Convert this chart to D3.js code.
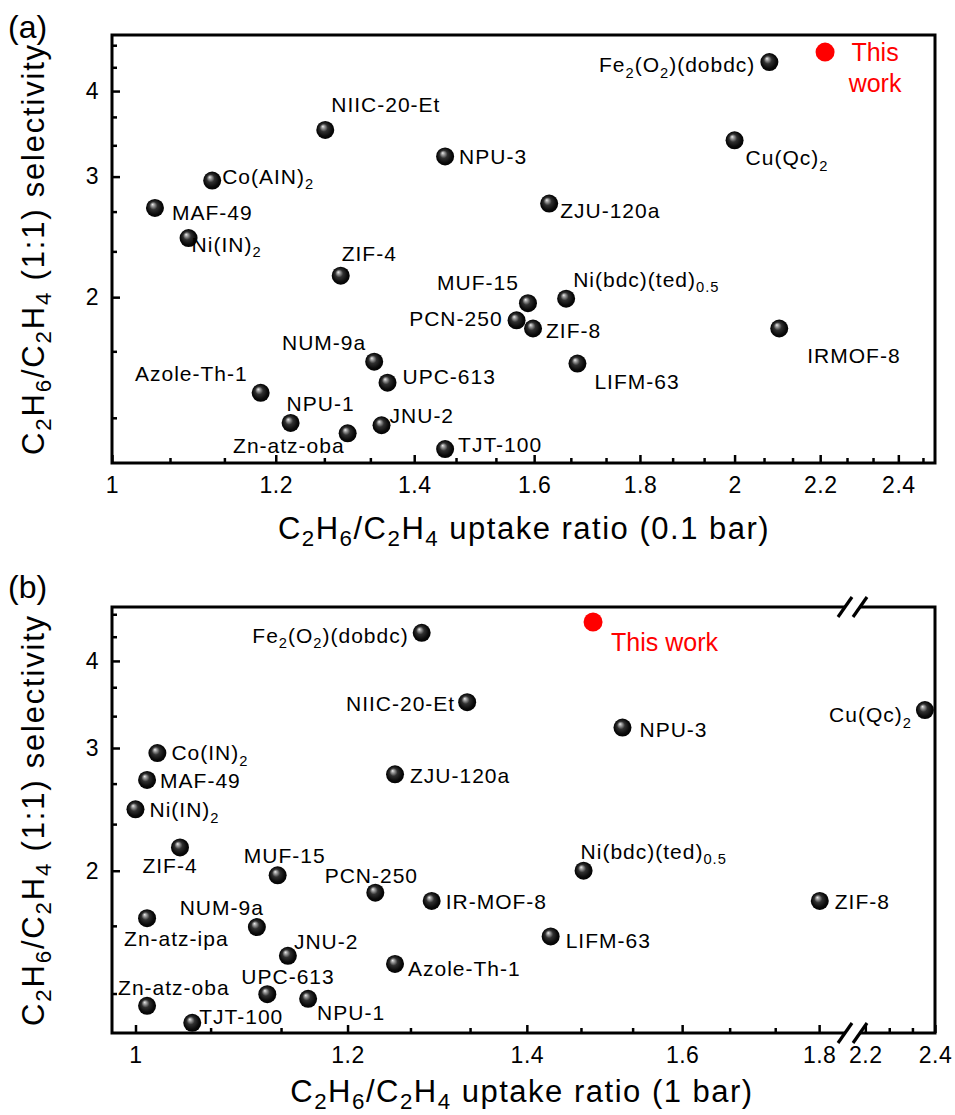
<!DOCTYPE html>
<html><head><meta charset="utf-8">
<script src="https://cdn.jsdelivr.net/npm/d3@7"></script>
<style>
body{margin:0;background:#fff}
svg{display:block}
text{font-family:"Liberation Sans",Arial,sans-serif;fill:#000}
</style>
</head><body>
<svg id="chart" width="955" height="1115"></svg>
<script>
// ---------- Panel (a): 0.1 bar ----------
const namesA = ["Fe_{2}(O_{2})(dobdc)","Cu(Qc)_{2}","NIIC-20-Et","NPU-3","Co(AIN)_{2}","MAF-49","Ni(IN)_{2}","ZJU-120a","ZIF-4","MUF-15","Ni(bdc)(ted)_{0.5}","PCN-250","ZIF-8","IRMOF-8","LIFM-63","NUM-9a","UPC-613","Azole-Th-1","NPU-1","JNU-2","Zn-atz-oba","TJT-100"];
const uptakeA = [2.079,2.0,1.268,1.449,1.118,1.049,1.089,1.627,1.290,1.589,1.658,1.569,1.598,2.102,1.679,1.339,1.359,1.180,1.220,1.350,1.300,1.449];
const selectivityA = [4.41,3.39,3.51,3.21,2.96,2.70,2.44,2.74,2.15,1.96,1.99,1.85,1.80,1.80,1.60,1.61,1.50,1.45,1.31,1.30,1.265,1.20];
const thisWorkA = [2.212, 4.56];

// ---------- Panel (b): 1 bar ----------
const namesB = ["Fe_{2}(O_{2})(dobdc)","NIIC-20-Et","NPU-3","Cu(Qc)_{2}","Co(IN)_{2}","MAF-49","Ni(IN)_{2}","ZJU-120a","ZIF-4","MUF-15","PCN-250","IR-MOF-8","Ni(bdc)(ted)_{0.5}","ZIF-8","LIFM-63","Azole-Th-1","Zn-atz-ipa","NUM-9a","JNU-2","UPC-613","NPU-1","Zn-atz-oba","TJT-100"];
const uptakeB = [1.279,1.330,1.520,2.37,1.019,1.010,1.000,1.250,1.039,1.130,1.229,1.290,1.470,1.801,1.429,1.250,1.010,1.110,1.140,1.120,1.160,1.010,1.050];
const selectivityB = [4.39,3.49,3.21,3.40,2.95,2.70,2.45,2.75,2.16,1.97,1.86,1.81,2.0,1.81,1.61,1.47,1.71,1.66,1.51,1.33,1.31,1.28,1.21];
const thisWorkB = [1.482, 4.55];

// ---------- ticks ----------
const yMajor = [2,3,4];
const yMinor = [1.333,1.667,2.333,2.667,3.333,3.667,4.333,4.667];
const xMajorA = [1,1.2,1.4,1.6,1.8,2,2.2,2.4];
const xMinorA = [1.0667,1.1333,1.2667,1.3333,1.4667,1.5333,1.6667,1.7333,1.8667,1.9333,2.0667,2.1333,2.2667,2.3333,2.4667];
const xMajorB1 = [1,1.2,1.4,1.6,1.8];
const xMinorB1 = [1.0667,1.1333,1.2667,1.3333,1.4667,1.5333,1.6667,1.7333];
const xMajorB2 = [2.2,2.4];
const xMinorB2 = [2.2667,2.3333];

// ---------- label layout (pixel offsets from point: dx, dy, anchor) ----------
const labelPosA = [[-14,10,"end"],[11,25,"start"],[6,-18,"start"],[14,8,"start"],[10,3,"start"],[17,12,"start"],[3,14,"start"],[11,14,"start"],[1,-15,"start"],[-9,-13,"end"],[7,-12,"start"],[-14,6,"end"],[13,10,"start"],[28,35,"start"],[17,25,"start"],[-8,-12,"end"],[15,1,"start"],[-13,-12,"end"],[-4,-12,"start"],[8,-2,"start"],[-3,20,"end"],[13,3,"start"]];
const labelPosB = [[-13,10,"end"],[-12,9,"end"],[17,9,"start"],[-13,12,"end"],[14,7,"start"],[13,8,"start"],[14,8,"start"],[15,9,"start"],[-10,26,"middle"],[7,-12,"middle"],[-4,-10,"middle"],[14,8,"start"],[-3,-12,"start"],[15,8,"start"],[15,12,"start"],[13,12,"start"],[-23,28,"start"],[7,-12,"end"],[6,-7,"start"],[-26,-10,"start"],[9,21,"start"],[-29,-11,"start"],[7,1,"start"]];

const svg = d3.select("#chart");
const defs = svg.append("defs");
const g = defs.append("radialGradient").attr("id","sph")
  .attr("cx","0.5").attr("cy","0.5").attr("r","0.55").attr("fx","0.36").attr("fy","0.3");
[[0,"#f0f0f0"],[0.12,"#b0b0b0"],[0.4,"#303030"],[0.75,"#0a0a0a"],[1,"#000"]]
  .forEach(([o,c])=>g.append("stop").attr("offset",o).attr("stop-color",c));

const LBL = 21, TICK = 23, TITLE = 31;

function rich(t, str, fs, ratio, shift){
  ratio = ratio || 0.7;
  const re = /_\{([^}]*)\}/g; let last=0, m, shifted=false; const sub = fs*(shift||0.26);
  while((m = re.exec(str))){
    if(m.index>last){ t.append("tspan").attr("dy", shifted? -sub:0).text(str.slice(last,m.index)); shifted=false; }
    t.append("tspan").attr("font-size", fs*ratio).attr("dy", shifted?0:sub).text(m[1]); shifted=true;
    last = re.lastIndex;
  }
  if(last<str.length) t.append("tspan").attr("dy", shifted? -sub:0).text(str.slice(last));
}

function styleAxis(a){
  a.select(".domain").remove();
  a.selectAll("line").attr("stroke","#000").attr("stroke-width",2.5);
  a.selectAll("text").attr("font-size",TICK).attr("letter-spacing",0.5).attr("font-family","'Liberation Sans',Arial,sans-serif");
}

function points(layer, names, xs, ys, xScaleFn, y, pos){
  names.forEach((n,i)=>{
    const px = xScaleFn(xs[i]), py = y(ys[i]);
    layer.append("circle").attr("cx",px).attr("cy",py).attr("r",9).attr("fill","url(#sph)");
    const t = layer.append("text").attr("x",px+pos[i][0]).attr("y",py+pos[i][1])
      .attr("text-anchor",pos[i][2]).attr("font-size",LBL).attr("letter-spacing",1);
    rich(t, n, LBL);
  });
}

function titles(xText, xX, xY, T, B){
  const xt = svg.append("text").attr("x",xX).attr("y",xY).attr("text-anchor","middle")
    .attr("font-size",TITLE).attr("letter-spacing",1.5);
  rich(xt, xText, TITLE, 0.72, 0.22);
  const yt = svg.append("text").attr("transform",`translate(44,${(T+B)/2}) rotate(-90)`)
    .attr("text-anchor","middle").attr("font-size",TITLE).attr("letter-spacing",1.8);
  rich(yt, "C_{2}H_{6}/C_{2}H_{4} (1:1) selectivity", TITLE, 0.72, 0.22);
}

// ================= Panel (a) =================
{
  const L=112,R=935,T=35,B=463;
  const x = d3.scaleLog().domain([1,2.5]).range([L,R]);
  const y = d3.scaleLog().domain([1.145,4.83]).range([B,T]);
  const ax = svg.append("g").attr("transform",`translate(0,${B})`)
    .call(d3.axisBottom(x).tickValues(xMajorA).tickSize(-8).tickPadding(14).tickFormat(d3.format("~g")));
  styleAxis(ax);
  const axm = svg.append("g").attr("transform",`translate(0,${B})`)
    .call(d3.axisBottom(x).tickValues(xMinorA).tickSize(-5).tickFormat(""));
  styleAxis(axm);
  const ay = svg.append("g").attr("transform",`translate(${L},0)`)
    .call(d3.axisLeft(y).tickValues(yMajor).tickSize(-8).tickPadding(13).tickFormat(d3.format("~g")));
  styleAxis(ay);
  const aym = svg.append("g").attr("transform",`translate(${L},0)`)
    .call(d3.axisLeft(y).tickValues(yMinor).tickSize(-5).tickFormat(""));
  styleAxis(aym);
  svg.append("rect").attr("x",L).attr("y",T).attr("width",R-L).attr("height",B-T)
    .attr("fill","none").attr("stroke","#000").attr("stroke-width",3);

  const layer = svg.append("g");
  points(layer, namesA, uptakeA, selectivityA, x, y, labelPosA);
  layer.append("circle").attr("cx",x(thisWorkA[0])).attr("cy",y(thisWorkA[1])).attr("r",9.5).attr("fill","#ff0000");
  const tw = layer.append("text").attr("text-anchor","middle").attr("font-size",25).style("fill","#ff0000");
  tw.append("tspan").attr("x",x(thisWorkA[0])+50).attr("y",y(thisWorkA[1])+9).text("This");
  tw.append("tspan").attr("x",x(thisWorkA[0])+50).attr("y",y(thisWorkA[1])+40).text("work");

  titles("C_{2}H_{6}/C_{2}H_{4} uptake ratio (0.1 bar)", 524, 539, T, B);
  svg.append("text").attr("x",8).attr("y",38).attr("font-size",32).text("(a)");
}

// ================= Panel (b) =================
{
  const L=112,R=935,T=607,B=1033, X1=851, X2=858;
  const x1 = d3.scaleLog().domain([0.98,1.85]).range([L,X1]);
  const x2 = d3.scaleLog().domain([2.18,2.4]).range([X2,R]);
  const y = d3.scaleLog().domain([1.17,4.78]).range([B,T]);
  [[x1,xMajorB1,xMinorB1],[x2,xMajorB2,xMinorB2]].forEach(([sc,maj,min])=>{
    const a = svg.append("g").attr("transform",`translate(0,${B})`)
      .call(d3.axisBottom(sc).tickValues(maj).tickSize(-8).tickPadding(14).tickFormat(d3.format("~g")));
    styleAxis(a);
    const am = svg.append("g").attr("transform",`translate(0,${B})`)
      .call(d3.axisBottom(sc).tickValues(min).tickSize(-5).tickFormat(""));
    styleAxis(am);
  });
  const ay = svg.append("g").attr("transform",`translate(${L},0)`)
    .call(d3.axisLeft(y).tickValues(yMajor).tickSize(-8).tickPadding(13).tickFormat(d3.format("~g")));
  styleAxis(ay);
  const aym = svg.append("g").attr("transform",`translate(${L},0)`)
    .call(d3.axisLeft(y).tickValues(yMinor).tickSize(-5).tickFormat(""));
  styleAxis(aym);

  const frame = svg.append("g").attr("stroke","#000").attr("stroke-width",3).attr("fill","none");
  const gapA = 845, gapB = 860;
  frame.append("path").attr("d",`M${gapA},${T}H${L}V${B}H${gapA}`);
  frame.append("path").attr("d",`M${gapB},${T}H${R}V${B}H${gapB}`);
  [T,B].forEach(yy=>{
    [gapA, gapB].forEach(cx=>{
      frame.append("line").attr("x1",cx-7).attr("y1",yy+10).attr("x2",cx+7).attr("y2",yy-10).attr("stroke-width",3.2);
    });
  });

  const xf = v => v < 2 ? x1(v) : x2(v);
  const layer = svg.append("g");
  points(layer, namesB, uptakeB, selectivityB, xf, y, labelPosB);
  layer.append("circle").attr("cx",xf(thisWorkB[0])).attr("cy",y(thisWorkB[1])).attr("r",9.5).attr("fill","#ff0000");
  layer.append("text").attr("x",xf(thisWorkB[0])+18).attr("y",y(thisWorkB[1])+29).attr("font-size",25).style("fill","#ff0000").text("This work");

  titles("C_{2}H_{6}/C_{2}H_{4} uptake ratio (1 bar)", 522, 1102, T, B);
  svg.append("text").attr("x",8).attr("y",598).attr("font-size",32).text("(b)");
}
</script>
</body></html>
